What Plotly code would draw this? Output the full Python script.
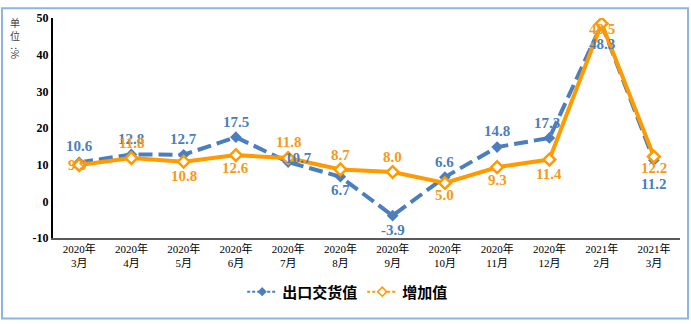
import plotly.graph_objects as go

categories = ["2020年<br>3月", "2020年<br>4月", "2020年<br>5月", "2020年<br>6月", "2020年<br>7月",
              "2020年<br>8月", "2020年<br>9月", "2020年<br>10月", "2020年<br>11月", "2020年<br>12月",
              "2021年<br>2月", "2021年<br>3月"]
export_values = [10.6, 12.8, 12.7, 17.5, 10.7, 6.7, -3.9, 6.6, 14.8, 17.3, 48.3, 11.2]
added_values = [9.9, 11.8, 10.8, 12.6, 11.8, 8.7, 8.0, 5.0, 9.3, 11.4, 48.5, 12.2]
series_names = ["出口交货值", "增加值"]
y_ticks = [-10, 0, 10, 20, 30, 40, 50]
y_tick_text = ["-10", "0", "10", "20", "30", "40", "50"]

BLUE = "#4A7EBE"
BLUE_TXT = "#4A7EBB"
ORANGE = "#FF9A00"
ORANGE_TXT = "#F59A1A"

# label offsets in pixels (style)
blue_dx = [0, 0, 0, 0, 10, 0, 0, 0, 0, -2, 0, 0]
blue_dy = [-16, -15, -16, -15, -4, 13, 14, -15, -16, -15, 20, 24]
orange_dx = [-2, 0, 0, 0, 0, 0, 0, 0, 0, 0, 0, 0]
orange_dy = [0, -15, 14, 13, -16, -14, -15, 12, 13, 14, 5, 11]

fig = go.Figure()
fig.add_trace(go.Scatter(
    x=categories, y=export_values, name=series_names[0], mode="lines+markers",
    line=dict(color=BLUE, width=4, dash="14px,6px"),
    marker=dict(symbol="diamond", size=9, color=BLUE),
    showlegend=False,
))
fig.add_trace(go.Scatter(
    x=categories, y=added_values, name=series_names[1], mode="lines+markers",
    line=dict(color=ORANGE, width=4),
    marker=dict(symbol="diamond", size=9, color="white", line=dict(color=ORANGE, width=2.5)),
    showlegend=False,
))
# legend entries with small symbols
fig.add_trace(go.Scatter(
    x=[None], y=[None], name=series_names[0], mode="lines+markers",
    line=dict(color=BLUE, width=2, dash="3px,2px"),
    marker=dict(symbol="diamond", size=7, color=BLUE),
))
fig.add_trace(go.Scatter(
    x=[None], y=[None], name=series_names[1], mode="lines+markers",
    line=dict(color=ORANGE, width=2, dash="3px,2px"),
    marker=dict(symbol="diamond", size=7, color="white", line=dict(color=ORANGE, width=1.5)),
))

annotations = []
for i, c in enumerate(categories):
    annotations.append(dict(x=c, y=export_values[i], xref="x", yref="y", text=f"{export_values[i]:.1f}",
                            showarrow=False, xshift=blue_dx[i], yshift=-blue_dy[i],
                            font=dict(family="Liberation Serif", size=15, color=BLUE_TXT, weight="bold")))
for i, c in enumerate(categories):
    annotations.append(dict(x=c, y=added_values[i], xref="x", yref="y", text=f"{added_values[i]:.1f}",
                            showarrow=False, xshift=orange_dx[i], yshift=-orange_dy[i],
                            font=dict(family="Liberation Serif", size=15, color=ORANGE_TXT, weight="bold")))

# vertical unit title: 单位：%
unit_font = dict(family="Noto Sans CJK SC", size=10, color="#404040")
annotations.append(dict(x=(15 - 53) / 627, y=(238 - 22) / 227, xref="paper", yref="paper",
                        xanchor="center", yanchor="middle", text="单<br>位", showarrow=False,
                        borderpad=0, font=unit_font))
annotations.append(dict(x=(15 - 53) / 627, y=(238 - 47) / 227, xref="paper", yref="paper",
                        xanchor="center", yanchor="middle", text=":%", textangle=90, showarrow=False,
                        borderpad=0, font=unit_font))

fig.update_layout(
    width=691, height=324,
    margin=dict(l=53, r=11, t=11, b=86),
    paper_bgcolor="white", plot_bgcolor="white",
    showlegend=True,
    legend=dict(orientation="h", x=0.47, xanchor="center", y=-0.245, yanchor="middle",
                font=dict(family="Noto Sans CJK SC", size=15, color="#000000", weight="bold"),
                itemwidth=30),
    annotations=annotations,
    shapes=[dict(type="rect", xref="paper", yref="paper", x0=-0.0813, x1=1.0128, y0=-0.366, y1=1.044,
                 line=dict(color="#8EB4E3", width=2))],
)
fig.update_xaxes(type="category", range=[-0.5, 11.5], showgrid=False, showline=True,
                 linecolor="#595959", linewidth=1.5, ticks="",
                 tickfont=dict(family="Liberation Serif, Noto Sans CJK SC", size=11, color="#000000"))
fig.update_yaxes(range=[-10, 50], tickvals=y_ticks, ticktext=y_tick_text, showgrid=False, zeroline=False,
                 showline=True, linecolor="#000000", linewidth=2, ticks="",
                 tickfont=dict(family="Liberation Serif", size=12, color="#000000", weight="bold"))

fig.write_html("out.html")
